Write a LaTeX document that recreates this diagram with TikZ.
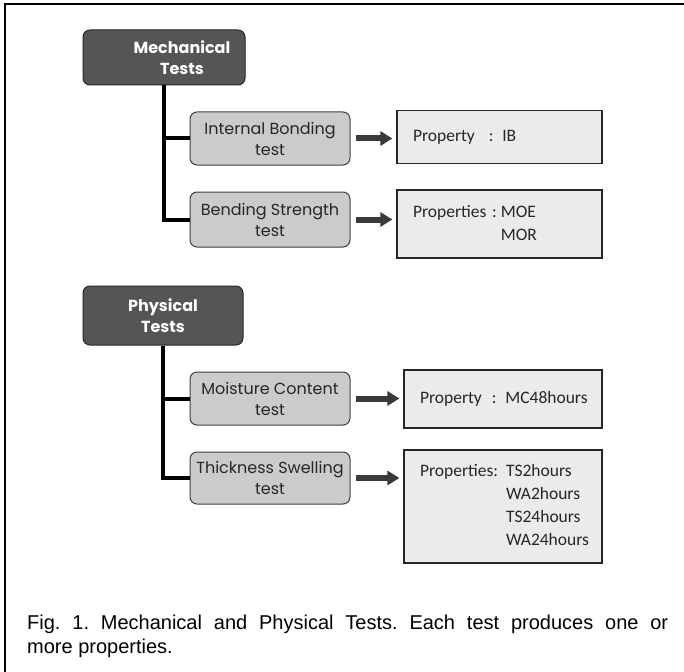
\documentclass[tikz,border=0pt]{standalone}
\usepackage{fontspec}
\setmainfont{Liberation Sans}
\newfontfamily\boxfont{Poppins}
\newfontfamily\propfont{Carlito}
\usetikzlibrary{arrows.meta}
\definecolor{headgray}{HTML}{555555}
\definecolor{testgray}{HTML}{CBCBCB}
\definecolor{propgray}{HTML}{EBEBEB}
\definecolor{arrowgray}{HTML}{3A3A3A}
\tikzset{
    headbox/.style={draw=black!85, fill=headgray, text=white, rounded corners=7pt,
        line width=1pt, align=center, inner sep=0pt,
        font=\boxfont\bfseries\fontsize{16}{21}\selectfont},
    testbox/.style={draw=black!75, fill=testgray, text=black!85, rounded corners=7pt,
        line width=1pt, align=center, inner sep=0pt, minimum width=160pt,
        font=\boxfont\fontsize{16}{21}\selectfont},
    propbox/.style={draw=black!85, fill=propgray, line width=1.2pt,
        inner xsep=16pt, inner ysep=0pt, align=left, text=black!85,
        font=\propfont\fontsize{17.5}{23}\selectfont},
    tree/.style={line width=4pt},
    fat/.style={-{Triangle[length=12pt,width=14pt]}, line width=6pt, draw=arrowgray}
}
\begin{document}
\begin{tikzpicture}[x=1pt, y=-1pt]
    \useasboundingbox (0,0) rectangle (684,671);
    \clip (0,0) rectangle (684,671);
    \draw[line width=1.5pt] (5,4) rectangle (720,720);

    % mechanical tests
    \node[headbox, minimum width=162pt, minimum height=55pt] (mech) at (164,57.5)
        {\hspace*{36pt}Mechanical\\\hspace*{36pt}Tests};
    \node[testbox, minimum height=53pt] (ib) at (270,138.5) {Internal Bonding\\test};
    \node[testbox, minimum height=55pt] (bs) at (270,219.5) {Bending Strength\\test};
    \node[propbox, text width=173pt, minimum height=53pt] (pib) at (499.5,137)
        {\mbox{Property\hspace{14pt}: IB}};
    \node[propbox, text width=173pt, minimum height=68pt] (pbs) at (499.5,224)
        {\begin{tabular}{@{}l@{\hspace{4pt}}l@{}}Properties :&MOE\\&MOR\end{tabular}};
    \draw[tree] (mech.south) |- (ib.west);
    \draw[tree] (mech.south) |- (bs.west);
    \draw[fat] ([xshift=5pt]ib.east) -- ([xshift=-4pt]ib.east -| pib.west);
    \draw[fat] ([xshift=5pt]bs.east) -- ([xshift=-4pt]bs.east -| pbs.west);

    % physical tests
    \node[headbox, minimum width=160pt, minimum height=59pt] (phys) at (163,315.5)
        {Physical\\Tests};
    \node[testbox, minimum height=53pt] (mc) at (270,398.5) {Moisture Content\\test};
    \node[testbox, minimum height=52pt] (ts) at (270,478) {Thickness Swelling\\test};
    \node[propbox, text width=166pt, minimum height=58pt] (pmc) at (503,399)
        {\mbox{Property\hspace{10pt}: MC48hours}};
    \node[propbox, text width=166pt, minimum height=113pt] (pts) at (503,506.5)
        {\begin{tabular}{@{}l@{\hspace{8pt}}l@{}}Properties:&TS2hours\\&WA2hours\\&TS24hours\\&WA24hours\end{tabular}};
    \draw[tree] (phys.south) |- (mc.west);
    \draw[tree] (phys.south) |- (ts.west);
    \draw[fat] ([xshift=5pt]mc.east) -- ([xshift=-4pt]mc.east -| pmc.west);
    \draw[fat] ([xshift=5pt]ts.east) -- ([xshift=-4pt]ts.east -| pts.west);

    % caption
    \node[anchor=north west, text width=641pt, align=justify, inner sep=0pt,
        font=\fontsize{20}{24}\selectfont\frenchspacing] (cap) at (27,614.5)
        {Fig. 1. Mechanical and Physical Tests. Each test produces one or\linebreak more properties.};
\end{tikzpicture}
\end{document}
